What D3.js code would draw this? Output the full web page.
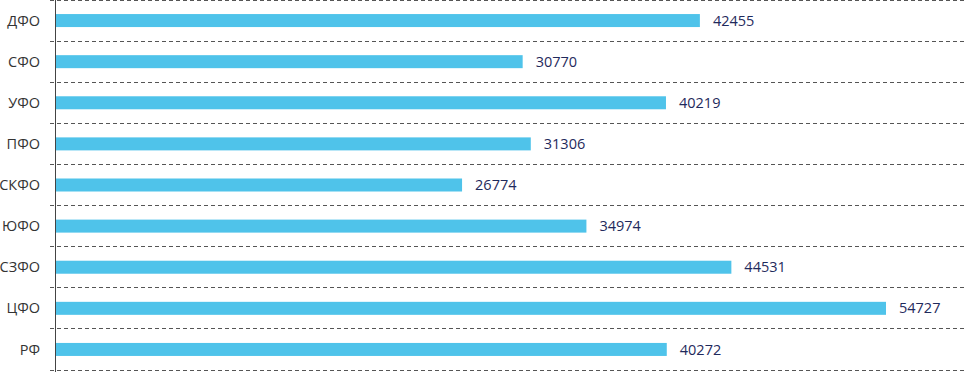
<!DOCTYPE html>
<html>
<head>
<meta charset="utf-8">
<script src="https://cdn.jsdelivr.net/npm/d3@7"></script>
<style>
  body { margin: 0; background: #fff; }
  text { font-family: "Open Sans", sans-serif; }
</style>
</head>
<body>
<script>
let regions = ["ДФО", "СФО", "УФО", "ПФО", "СКФО", "ЮФО", "СЗФО", "ЦФО", "РФ"];
let values = [42455, 30770, 40219, 31306, 26774, 34974, 44531, 54727, 40272];

let w = 964;
let h = 372;
let axisX = 55.5;

let svg = d3.select("body")
    .append("svg")
    .attr("width", w)
    .attr("height", h);

let xScale = d3.scaleLinear()
    .domain([0, 54727])
    .range([axisX + 0.5, 886]);

let yScale = d3.scaleBand()
    .domain(regions)
    .range([0, 370]);

// dashed separators between rows
let lines = d3.range(regions.length + 1).map(function(i) {
    return Math.floor(i * yScale.step()) + 0.5;
});
svg.selectAll("line.grid")
    .data(lines)
    .enter()
    .append("line")
    .attr("class", "grid")
    .attr("x1", 50)
    .attr("x2", w)
    .attr("y1", function(d) { return d; })
    .attr("y2", function(d) { return d; })
    .attr("stroke", "#555")
    .attr("stroke-width", 1)
    .attr("stroke-dasharray", "4,3");

let barH = 13;
let data = regions.map(function(r, i) { return { name: r, value: values[i] }; });

svg.selectAll("rect")
    .data(data)
    .enter()
    .append("rect")
    .attr("x", xScale(0))
    .attr("y", function(d) { return yScale(d.name) + yScale.bandwidth() / 2 - barH / 2; })
    .attr("width", function(d) { return xScale(d.value) - xScale(0); })
    .attr("height", barH)
    .attr("fill", "#4fc3ea");

// axis line
svg.append("line")
    .attr("x1", axisX)
    .attr("x2", axisX)
    .attr("y1", 0)
    .attr("y2", h)
    .attr("stroke", "#444")
    .attr("stroke-width", 1);

svg.selectAll("text.cat")
    .data(data)
    .enter()
    .append("text")
    .attr("class", "cat")
    .attr("x", 40)
    .attr("y", function(d) { return yScale(d.name) + yScale.bandwidth() / 2; })
    .attr("dy", "0.35em")
    .attr("text-anchor", "end")
    .attr("font-size", "14.5px")
    .attr("fill", "#333")
    .text(function(d) { return d.name; });

svg.selectAll("text.val")
    .data(data)
    .enter()
    .append("text")
    .attr("class", "val")
    .attr("x", function(d) { return xScale(d.value) + 13; })
    .attr("y", function(d) { return yScale(d.name) + yScale.bandwidth() / 2; })
    .attr("dy", "0.35em")
    .attr("font-size", "14.5px")
    .attr("fill", "#1f2a5c")
    .text(function(d) { return d.value; });
</script>
</body>
</html>
